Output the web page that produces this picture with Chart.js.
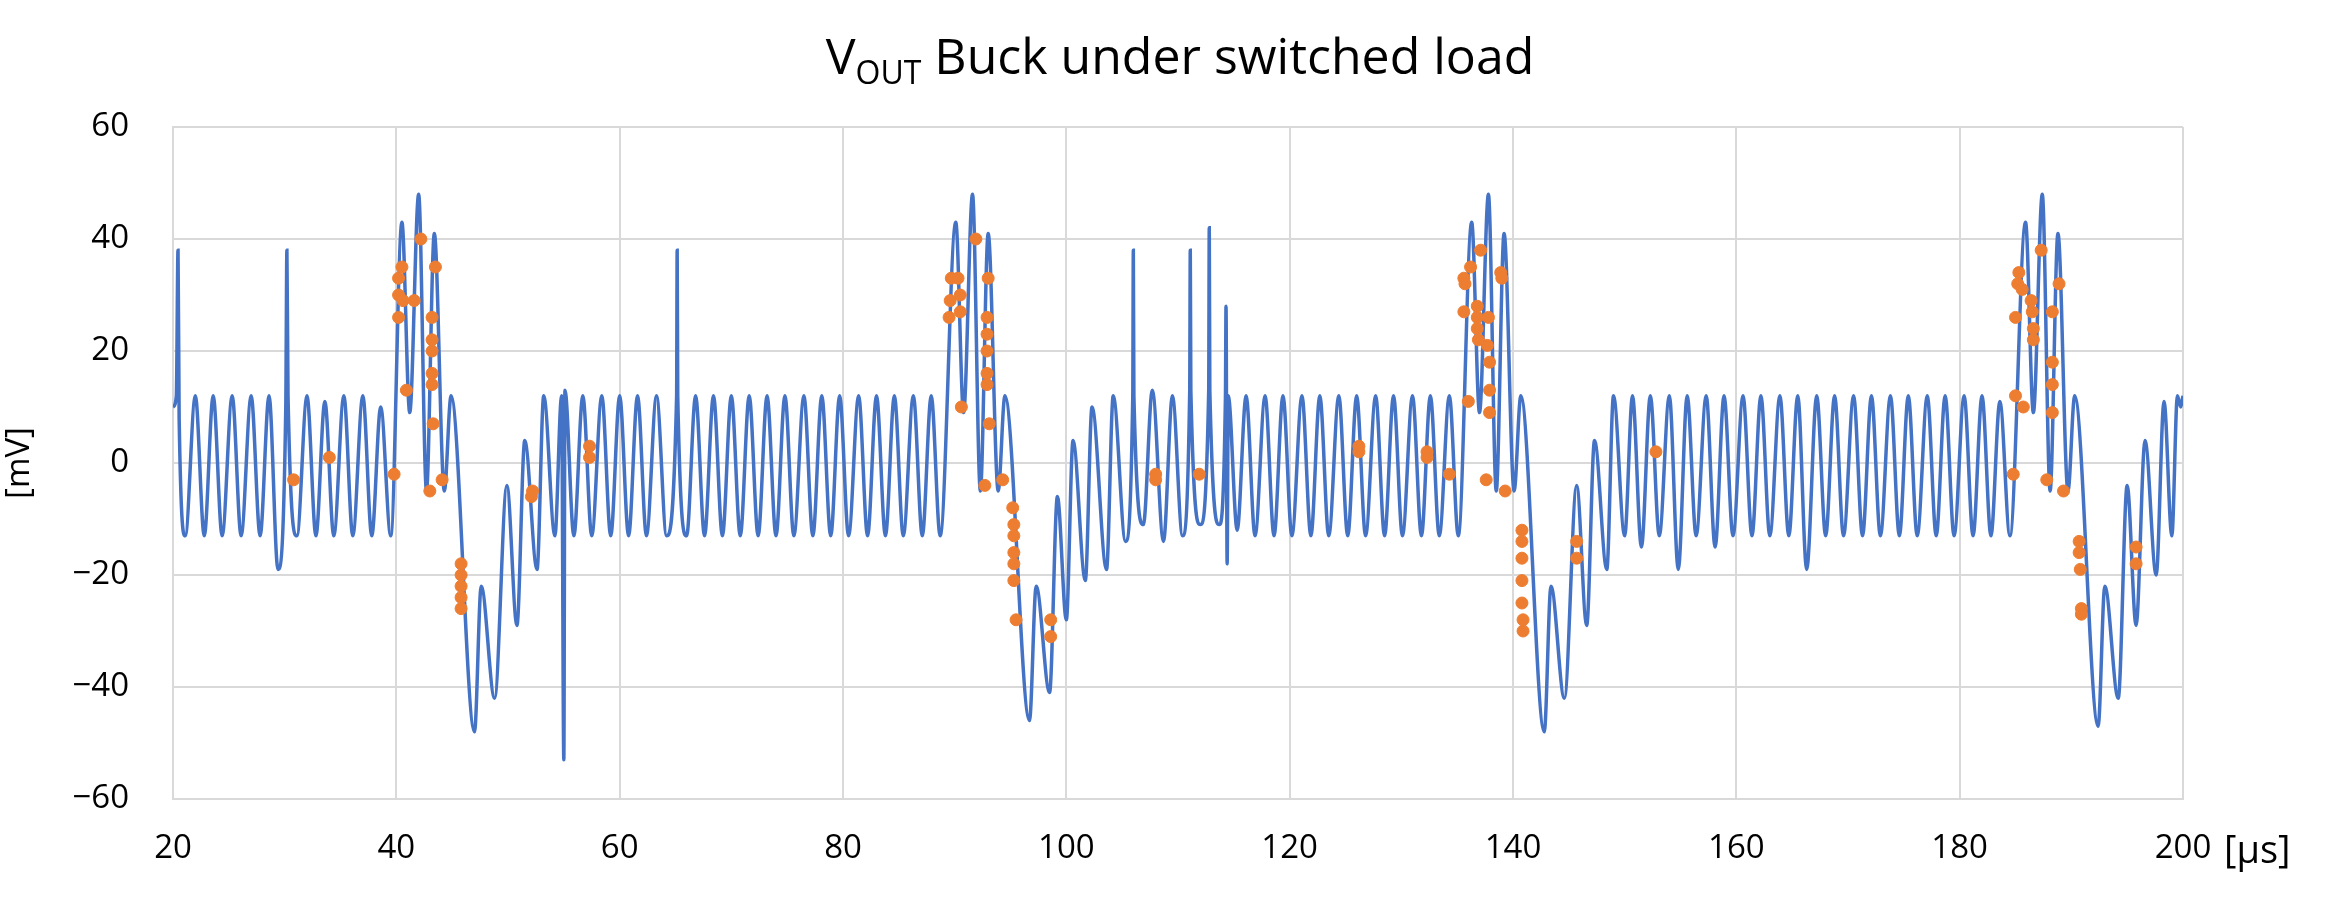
<!DOCTYPE html>
<html>
<head>
<meta charset="utf-8">
<script src="https://cdn.jsdelivr.net/npm/chart.js@4/dist/chart.umd.min.js"></script>
<style>
  html, body { margin: 0; padding: 0; background: #fff; }
  #wrap { width: 2347px; height: 904px; }
</style>
</head>
<body>
<div id="wrap"><canvas id="mycanvas"></canvas></div>
<script>
// blue trace: turning points of V_OUT [µs, mV]
var tOut = [
  20.0, 20.3, 20.45, 20.55, 21.1, 22.0, 22.8, 23.6, 24.4, 25.3, 26.1, 27.0, 27.8, 28.6, 29.4, 30.1, 30.2, 30.3,
  31.1, 32.0, 32.8, 33.6, 34.4, 35.3, 36.1, 37.0, 37.8, 38.6, 39.5,
  40.5, 41.2, 42.0, 42.7, 43.4, 44.3, 44.9, 47.0, 47.6, 48.8, 49.9, 50.8, 51.5, 52.6, 53.2, 54.2, 54.8, 55.0, 55.1,
  55.9, 56.7, 57.5, 58.4, 59.2, 60.0, 60.8, 61.6, 62.4, 63.3, 64.2, 65.1, 65.15, 65.2, 66.0, 66.8, 67.6, 68.4,
  69.2, 70.0, 70.8, 71.6, 72.4, 73.2, 74.0, 74.8, 75.6, 76.5, 77.3, 78.1, 78.9, 79.7, 80.5, 81.4, 82.2, 83.0,
  83.8, 84.6, 85.4, 86.3, 87.1, 87.9, 88.7,
  90.1, 90.8, 91.6, 92.3, 93.0, 93.9, 94.5, 96.7, 97.3, 98.5, 99.2, 100.0, 100.6, 101.7, 102.3, 103.6, 104.2,
  105.3, 105.95, 106.0, 106.05, 106.9, 107.7, 108.7, 109.5, 110.4, 111.05, 111.1, 111.15, 112.0, 112.75, 112.8,
  112.85, 113.7, 114.25, 114.3, 114.4, 114.5, 115.3, 116.1, 116.9, 117.8, 118.6, 119.4, 120.2, 121.1, 121.9,
  122.7, 123.5, 124.4, 125.2, 126.0, 126.8, 127.7, 128.5, 129.3, 130.1, 131.0, 131.8, 132.6, 133.4, 134.3, 135.1,
  136.3, 137.0, 137.8, 138.5, 139.2, 140.1, 140.7, 142.8, 143.4, 144.6, 145.7, 146.6, 147.3, 148.4, 149.0, 150.0,
  150.7, 151.5, 152.3, 153.1, 154.0, 154.8, 155.6, 156.4, 157.3, 158.1, 158.9, 159.7, 160.6, 161.4, 162.2, 163.0,
  163.9, 164.7, 165.5, 166.3, 167.2, 168.0, 168.8, 169.6, 170.5, 171.3, 172.1, 172.9, 173.8, 174.6, 175.4, 176.2,
  177.1, 177.9, 178.7, 179.5, 180.4, 181.2, 182.0, 182.8, 183.6, 184.5,
  185.9, 186.6, 187.4, 188.1, 188.8, 189.7, 190.3, 192.4, 193.0, 194.2, 195.0, 195.8, 196.6, 197.6, 198.3, 199.0,
  199.5, 199.8, 200.0
];
var vOut = [
  10, 12, 38, 8, -13, 12, -13, 12, -13, 12, -13, 12, -13, 12, -19, 10, 38, 12,
  -13, 12, -13, 11, -13, 12, -13, 12, -13, 10, -13,
  43, 9, 48, -5, 41, -5, 12, -48, -22, -42, -4, -29, 4, -19, 12, -13, 12, -53, 13,
  -13, 12, -13, 12, -13, 12, -13, 12, -13, 12, -13, 12, 38, 12, -13, 12, -13, 12,
  -13, 12, -13, 12, -13, 12, -13, 12, -13, 12, -13, 12, -13, 12, -13, 12, -13, 12,
  -13, 12, -13, 12, -13, 12, -13,
  43, 9, 48, -5, 41, -5, 12, -46, -22, -41, -6, -28, 4, -21, 10, -19, 12,
  -14, 12, 38, 12, -11, 13, -14, 12, -13, 13, 38, 13, -11, 13, 42,
  13, -11, 12, 28, -18, 12, -12, 12, -13, 12, -13, 12, -13, 12, -13,
  12, -13, 12, -13, 12, -13, 12, -13, 12, -13, 12, -13, 12, -13, 12, -13,
  43, 9, 48, -5, 41, -5, 12, -48, -22, -42, -4, -29, 4, -19, 12, -13,
  12, -15, 12, -13, 12, -19, 12, -13, 12, -15, 12, -13, 12, -13, 12, -13,
  12, -13, 12, -19, 12, -13, 12, -13, 12, -13, 12, -13, 12, -13, 12, -13,
  12, -13, 12, -13, 12, -13, 12, -13, 11, -13,
  43, 9, 48, -5, 41, -5, 12, -47, -22, -42, -4, -29, 4, -20, 11, -13,
  12, 10, 12
];

// orange markers [µs, mV]
var tMark = [
  30.8, 34.0, 39.8, 40.2, 40.2, 40.2, 40.5, 40.6, 40.9, 41.6, 42.2, 43.0, 43.2, 43.2, 43.2, 43.2, 43.2, 43.3,
  43.5, 44.1, 45.8, 45.8, 45.8, 45.8, 45.8, 52.1, 52.2, 57.3, 57.3,
  89.5, 89.6, 89.7, 90.3, 90.5, 90.5, 90.6, 91.9, 92.7, 93.0, 92.9, 92.9, 92.9, 92.9, 92.9, 93.1, 94.3, 95.2,
  95.3, 95.3, 95.3, 95.3, 95.3, 95.5, 98.6, 98.6, 108.0, 108.0, 111.9, 126.2, 126.2, 132.3, 132.3, 134.3,
  135.6, 135.7, 135.6, 136.2, 136.0, 136.8, 136.8, 136.8, 136.9, 137.1, 137.6, 137.7, 137.8, 137.9, 137.9, 137.9,
  138.9, 139.0, 139.3, 140.8, 140.8, 140.8, 140.8, 140.8, 140.9, 140.9, 145.7, 145.7, 152.8,
  184.8, 185.0, 185.0, 185.2, 185.3, 185.6, 185.7, 186.4, 186.5, 186.6, 186.6, 187.3, 187.8, 188.3, 188.3, 188.3,
  188.3, 188.9, 189.3, 190.7, 190.7, 190.8, 190.9, 190.9, 195.8, 195.8
];
var vMark = [
  -3, 1, -2, 33, 30, 26, 35, 29, 13, 29, 40, -5, 26, 22, 20, 16, 14, 7,
  35, -3, -18, -20, -22, -24, -26, -6, -5, 1, 3,
  26, 29, 33, 33, 30, 27, 10, 40, -4, 33, 26, 23, 20, 16, 14, 7, -3, -8,
  -11, -13, -16, -18, -21, -28, -28, -31, -2, -3, -2, 2, 3, 2, 1, -2,
  33, 32, 27, 35, 11, 28, 26, 24, 22, 38, -3, 21, 26, 18, 13, 9,
  34, 33, -5, -12, -14, -17, -21, -25, -28, -30, -14, -17, 2,
  -2, 12, 26, 32, 34, 31, 10, 29, 27, 24, 22, 38, -3, 27, 18, 14,
  9, 32, -5, -14, -16, -19, -26, -27, -15, -18
];

var xTicks = [20, 40, 60, 80, 100, 120, 140, 160, 180, 200];
var yTicks = [-60, -40, -20, 0, 20, 40, 60];

var outPts = [];
for (var i in tOut) outPts.push({x: tOut[i], y: vOut[i]});
var markPts = [];
for (var j in tMark) markPts.push({x: tMark[j], y: vMark[j]});

var FONT = "'Open Sans', 'Liberation Sans', sans-serif";

// title with subscript and unit label at the end of the x axis
var extraText = {
  id: 'extraText',
  afterDraw: function(chart) {
    var c = chart.ctx;
    c.save();
    c.fillStyle = '#000';
    c.textBaseline = 'alphabetic';
    var big = '50px ' + FONT, small = '32px ' + FONT;
    var parts = [['V', big, 0], ['OUT', small, 10], [' Buck under switched load', big, 0]];
    var w = 0;
    parts.forEach(function(p) { c.font = p[1]; w += c.measureText(p[0]).width; });
    var x = 1180 - w / 2;
    parts.forEach(function(p) {
      c.font = p[1];
      c.fillText(p[0], x, 74 + p[2]);
      x += c.measureText(p[0]).width;
    });
    c.font = '38px ' + FONT;
    c.textAlign = 'left';
    c.textBaseline = 'middle';
    c.fillText('[\u00b5s]', 2224, 852);
    c.restore();
  }
};

var ctx = document.getElementById('mycanvas');
var chart = new Chart(ctx, {
  type: 'scatter',
  data: {
    datasets: [
      {
        label: 'markers',
        data: markPts,
        backgroundColor: '#ED7D31',
        borderColor: '#ED7D31',
        pointRadius: 6,
        pointStyle: 'circle',
        showLine: false,
        order: 0
      },
      {
        label: 'VOUT',
        data: outPts,
        borderColor: '#4472C4',
        backgroundColor: '#4472C4',
        borderWidth: 3.5,
        pointRadius: 0,
        showLine: true,
        cubicInterpolationMode: 'monotone',
        order: 1
      }
    ]
  },
  options: {
    responsive: true,
    maintainAspectRatio: false,
    animation: false,
    layout: { padding: { left: 0, top: 127, right: 164, bottom: 0 } },
    plugins: { legend: { display: false }, title: { display: false }, tooltip: { enabled: false } },
    scales: {
      x: {
        type: 'linear', min: 20, max: 200,
        afterBuildTicks: function(ax) { ax.ticks = xTicks.map(function(v) { return {value: v}; }); },
        afterFit: function(ax) { ax.height = 105; },
        grid: { color: '#d9d9d9', lineWidth: 2, drawTicks: false },
        border: { color: '#d9d9d9', width: 2 },
        ticks: { color: '#000', font: { family: FONT, size: 33 }, padding: 30, maxRotation: 0 }
      },
      y: {
        type: 'linear', min: -60, max: 60,
        afterBuildTicks: function(ax) { ax.ticks = yTicks.map(function(v) { return {value: v}; }); },
        afterFit: function(ax) { ax.width = 173; },
        grid: { color: '#d9d9d9', lineWidth: 2, drawTicks: false },
        border: { color: '#d9d9d9', width: 2 },
        title: { display: true, text: '[mV]', color: '#000', font: { family: FONT, size: 33 }, padding: 0 },
        ticks: {
          color: '#000', font: { family: FONT, size: 33 }, padding: 44,
          callback: function(v) { return String(v).replace('-', '\u2212'); }
        }
      }
    }
  },
  plugins: [extraText]
});
</script>
</body>
</html>
